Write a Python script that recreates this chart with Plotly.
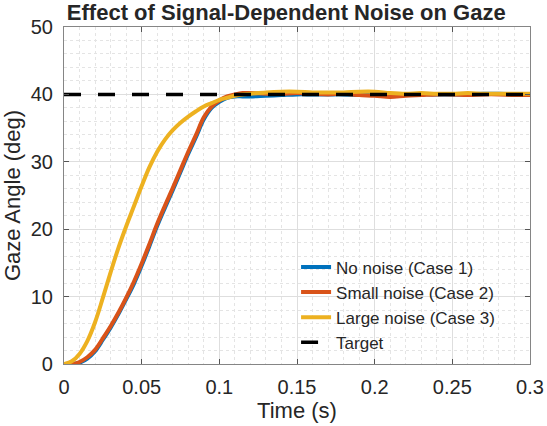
import plotly.graph_objects as go

# Data
time = [0.000, 0.005, 0.010, 0.015, 0.020, 0.025, 0.030, 0.035, 0.040, 0.045,
        0.050, 0.055, 0.060, 0.065, 0.070, 0.075, 0.080, 0.085, 0.090, 0.095,
        0.100, 0.105, 0.110, 0.115, 0.120, 0.130, 0.140, 0.150, 0.160, 0.170,
        0.180, 0.190, 0.200, 0.210, 0.220, 0.230, 0.240, 0.250, 0.260, 0.270,
        0.280, 0.290, 0.300]

no_noise = [0.0, 0.0, 0.2, 0.8, 1.9, 3.6, 5.4, 7.4, 9.6, 11.9,
            14.6, 17.5, 20.5, 23.2, 25.8, 28.5, 31.2, 33.7, 36.3, 38.0,
            38.9, 39.5, 39.7, 39.7, 39.7, 39.8, 39.9, 40.0, 40.0, 40.0,
            40.0, 39.9, 39.9, 39.8, 39.9, 40.0, 40.0, 40.0, 40.0, 40.1,
            40.1, 40.0, 40.0]

small_noise = [0.0, 0.0, 0.3, 1.0, 2.1, 3.8, 5.6, 7.6, 9.8, 12.2,
               14.9, 17.8, 20.8, 23.5, 26.1, 28.8, 31.5, 34.0, 36.6, 38.2,
               39.1, 39.7, 40.0, 40.2, 40.2, 40.1, 40.1, 40.2, 40.1, 40.0,
               40.1, 39.9, 39.8, 39.6, 39.8, 39.9, 40.0, 40.0, 39.9, 40.0,
               40.0, 39.9, 39.9]

large_noise = [0.0, 0.4, 1.5, 3.4, 6.2, 9.8, 13.6, 17.2, 20.4, 23.4,
               26.4, 29.2, 31.5, 33.3, 34.7, 35.8, 36.7, 37.5, 38.2, 38.7,
               39.2, 39.5, 39.8, 40.0, 40.1, 40.3, 40.4, 40.4, 40.3, 40.3,
               40.3, 40.4, 40.4, 40.2, 40.1, 40.2, 40.1, 40.1, 40.2, 40.1,
               40.1, 40.1, 40.1]

target_t = [0.0, 0.3]
target_y = [40, 40]

fig = go.Figure()

series = [
    ("No noise (Case 1)", no_noise, "#0072BD"),
    ("Small noise (Case 2)", small_noise, "#D95319"),
    ("Large noise (Case 3)", large_noise, "#EDB120"),
]
for name, vals, col in series:
    fig.add_trace(go.Scatter(
        x=time, y=vals, mode="lines", name=name,
        line=dict(color=col, width=4, shape="spline", smoothing=1.0),
    ))

fig.add_trace(go.Scatter(
    x=target_t, y=target_y, mode="lines", name="Target",
    line=dict(color="black", width=3.5, dash="17px,17px"),
))

font = "Liberation Sans, Arial"

axis_common = dict(
    showline=True, linecolor="#858585", linewidth=1.2, mirror="ticks",
    ticks="inside", ticklen=5, tickcolor="#555555",
    showgrid=True, gridcolor="#dedede", gridwidth=1,
    zeroline=False, automargin=False,
    tickfont=dict(family=font, size=20, color="#262626"),
)

fig.update_xaxes(
    range=[0, 0.3], dtick=0.05, tick0=0,
    minor=dict(dtick=0.01, showgrid=True, gridcolor="#e4e4e4",
               griddash="3px,3px", ticks=""),
    ticklabelstandoff=5,
    title=dict(text="Time (s)", standoff=0,
               font=dict(family=font, size=22, color="#262626")),
    **axis_common,
)
fig.update_yaxes(
    range=[0, 50], dtick=10, tick0=0,
    minor=dict(dtick=2, showgrid=True, gridcolor="#e4e4e4",
               griddash="3px,3px", ticks=""),
    ticklabelstandoff=6,
    title=dict(text="Gaze Angle (deg)", standoff=6,
               font=dict(family=font, size=22, color="#262626")),
    **axis_common,
)

fig.update_layout(
    width=547, height=426,
    margin=dict(l=64, r=17, t=27, b=62),
    paper_bgcolor="white", plot_bgcolor="white",
    title=dict(
        text="<b>Effect of Signal-Dependent Noise on Gaze</b>",
        x=0.477, xref="paper", xanchor="center",
        y=0.971, yref="container", yanchor="middle",
        font=dict(family=font, size=22, color="#262626"),
    ),
    legend=dict(
        x=0.498, y=0.34, xanchor="left", yanchor="top",
        bgcolor="rgba(0,0,0,0)", borderwidth=0,
        font=dict(family=font, size=17, color="#262626"),
        tracegroupgap=0,
    ),
    showlegend=True,
)

# drop the page's default body margin so the figure sits at the window corner
fig.write_html("out.html", config={"displayModeBar": False},
               post_script="document.body.style.margin='0';")
